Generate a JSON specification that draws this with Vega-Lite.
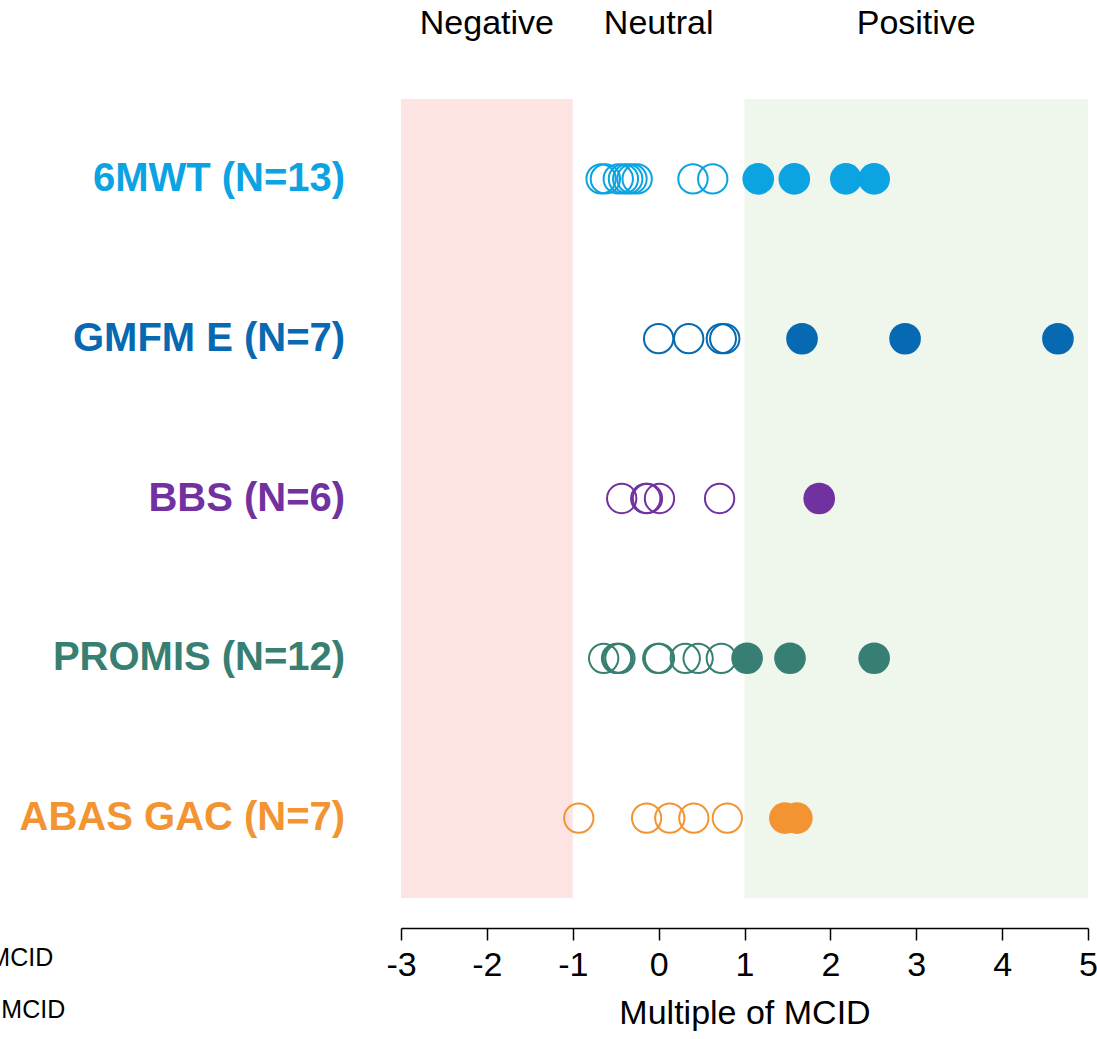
{
  "$schema": "https://vega.github.io/schema/vega-lite/v6.json",
  "width": 687,
  "height": 799,
  "autosize": {"type": "none"},
  "padding": {"left": 401, "top": 99, "right": 9, "bottom": 141},
  "background": "white",
  "config": {"font": "Liberation Sans", "view": {"stroke": null}},
  "datasets": {
    "bands": [
      {"zone": "Negative", "x0": -3, "x1": -1, "y0": 0.5, "y1": 5.5},
      {"zone": "Positive", "x0": 1, "x1": 5, "y0": 0.5, "y1": 5.5}
    ],
    "points": [
      {"measure": "6MWT (N=13)", "row": 5, "value": -0.67, "met": "No"},
      {"measure": "6MWT (N=13)", "row": 5, "value": -0.62, "met": "No"},
      {"measure": "6MWT (N=13)", "row": 5, "value": -0.47, "met": "No"},
      {"measure": "6MWT (N=13)", "row": 5, "value": -0.41, "met": "No"},
      {"measure": "6MWT (N=13)", "row": 5, "value": -0.36, "met": "No"},
      {"measure": "6MWT (N=13)", "row": 5, "value": -0.31, "met": "No"},
      {"measure": "6MWT (N=13)", "row": 5, "value": -0.25, "met": "No"},
      {"measure": "6MWT (N=13)", "row": 5, "value": 0.40, "met": "No"},
      {"measure": "6MWT (N=13)", "row": 5, "value": 0.63, "met": "No"},
      {"measure": "6MWT (N=13)", "row": 5, "value": 1.16, "met": "Yes"},
      {"measure": "6MWT (N=13)", "row": 5, "value": 1.58, "met": "Yes"},
      {"measure": "6MWT (N=13)", "row": 5, "value": 2.18, "met": "Yes"},
      {"measure": "6MWT (N=13)", "row": 5, "value": 2.51, "met": "Yes"},
      {"measure": "GMFM E (N=7)", "row": 4, "value": 0.0, "met": "No"},
      {"measure": "GMFM E (N=7)", "row": 4, "value": 0.35, "met": "No"},
      {"measure": "GMFM E (N=7)", "row": 4, "value": 0.73, "met": "No"},
      {"measure": "GMFM E (N=7)", "row": 4, "value": 0.77, "met": "No"},
      {"measure": "GMFM E (N=7)", "row": 4, "value": 1.67, "met": "Yes"},
      {"measure": "GMFM E (N=7)", "row": 4, "value": 2.87, "met": "Yes"},
      {"measure": "GMFM E (N=7)", "row": 4, "value": 4.65, "met": "Yes"},
      {"measure": "BBS (N=6)", "row": 3, "value": -0.43, "met": "No"},
      {"measure": "BBS (N=6)", "row": 3, "value": -0.15, "met": "No"},
      {"measure": "BBS (N=6)", "row": 3, "value": -0.13, "met": "No"},
      {"measure": "BBS (N=6)", "row": 3, "value": 0.01, "met": "No"},
      {"measure": "BBS (N=6)", "row": 3, "value": 0.71, "met": "No"},
      {"measure": "BBS (N=6)", "row": 3, "value": 1.87, "met": "Yes"},
      {"measure": "PROMIS (N=12)", "row": 2, "value": -0.64, "met": "No"},
      {"measure": "PROMIS (N=12)", "row": 2, "value": -0.49, "met": "No"},
      {"measure": "PROMIS (N=12)", "row": 2, "value": -0.47, "met": "No"},
      {"measure": "PROMIS (N=12)", "row": 2, "value": -0.45, "met": "No"},
      {"measure": "PROMIS (N=12)", "row": 2, "value": -0.01, "met": "No"},
      {"measure": "PROMIS (N=12)", "row": 2, "value": 0.01, "met": "No"},
      {"measure": "PROMIS (N=12)", "row": 2, "value": 0.31, "met": "No"},
      {"measure": "PROMIS (N=12)", "row": 2, "value": 0.46, "met": "No"},
      {"measure": "PROMIS (N=12)", "row": 2, "value": 0.73, "met": "No"},
      {"measure": "PROMIS (N=12)", "row": 2, "value": 1.03, "met": "Yes"},
      {"measure": "PROMIS (N=12)", "row": 2, "value": 1.53, "met": "Yes"},
      {"measure": "PROMIS (N=12)", "row": 2, "value": 2.51, "met": "Yes"},
      {"measure": "ABAS GAC (N=7)", "row": 1, "value": -0.93, "met": "No"},
      {"measure": "ABAS GAC (N=7)", "row": 1, "value": -0.14, "met": "No"},
      {"measure": "ABAS GAC (N=7)", "row": 1, "value": 0.13, "met": "No"},
      {"measure": "ABAS GAC (N=7)", "row": 1, "value": 0.41, "met": "No"},
      {"measure": "ABAS GAC (N=7)", "row": 1, "value": 0.80, "met": "No"},
      {"measure": "ABAS GAC (N=7)", "row": 1, "value": 1.47, "met": "Yes"},
      {"measure": "ABAS GAC (N=7)", "row": 1, "value": 1.61, "met": "Yes"}
    ],
    "rowlabels": [
      {"measure": "6MWT (N=13)", "row": 5, "x": -3.65},
      {"measure": "GMFM E (N=7)", "row": 4, "x": -3.65},
      {"measure": "BBS (N=6)", "row": 3, "x": -3.65},
      {"measure": "PROMIS (N=12)", "row": 2, "x": -3.65},
      {"measure": "ABAS GAC (N=7)", "row": 1, "x": -3.65}
    ],
    "toplabels": [
      {"label": "Negative", "x": -2, "y": 5.97},
      {"label": "Neutral", "x": 0, "y": 5.97},
      {"label": "Positive", "x": 3, "y": 5.97}
    ],
    "legendtext": [
      {"label": "< MCID", "x": -7.05, "y": 0.125},
      {"label": "≥ MCID", "x": -6.91, "y": -0.2}
    ]
  },
  "layer": [
    {
      "data": {"name": "bands"},
      "mark": {"type": "rect"},
      "encoding": {
        "x": {"field": "x0", "type": "quantitative", "scale": {"domain": [-3, 5], "nice": false, "zero": false},
          "axis": {"orient": "bottom", "offset": 30, "values": [-3, -2, -1, 0, 1, 2, 3, 4, 5], "grid": false,
            "labelExpr": "'' + datum.value",
            "domainColor": "black", "domainWidth": 1.5, "tickColor": "black", "tickWidth": 1.5, "tickSize": 12,
            "labelFontSize": 34, "labelColor": "black", "labelPadding": 8, "labelFlush": false,
            "title": "Multiple of MCID", "titleFontSize": 34, "titleFontWeight": "normal", "titleColor": "black", "titlePadding": 14}},
        "x2": {"field": "x1"},
        "y": {"field": "y0", "type": "quantitative", "scale": {"domain": [0.5, 5.5], "nice": false, "zero": false}, "axis": null},
        "y2": {"field": "y1"},
        "fill": {"field": "zone", "type": "nominal", "scale": {"domain": ["Negative", "Positive"], "range": ["#FEE3E3", "#EFF6EC"]}, "legend": null}
      }
    },
    {
      "mark": {"type": "rule", "color": "black", "strokeWidth": 3, "strokeDash": [14, 8]},
      "encoding": {"x": {"datum": 0, "type": "quantitative"}}
    },
    {
      "data": {"name": "points"},
      "transform": [{"filter": "datum.met === 'No'"}],
      "mark": {"type": "point", "shape": "circle", "filled": false, "strokeWidth": 2, "size": 860, "opacity": 1},
      "encoding": {
        "x": {"field": "value", "type": "quantitative"},
        "y": {"field": "row", "type": "quantitative"},
        "color": {"field": "measure", "type": "nominal", "legend": null,
          "scale": {"domain": ["6MWT (N=13)", "GMFM E (N=7)", "BBS (N=6)", "PROMIS (N=12)", "ABAS GAC (N=7)"],
            "range": ["#0BA3E2", "#0769B1", "#7131A0", "#377F72", "#F39433"]}}
      }
    },
    {
      "data": {"name": "points"},
      "transform": [{"filter": "datum.met === 'Yes'"}],
      "mark": {"type": "circle", "size": 1000, "opacity": 1},
      "encoding": {
        "x": {"field": "value", "type": "quantitative"},
        "y": {"field": "row", "type": "quantitative"},
        "color": {"field": "measure", "type": "nominal", "legend": null}
      }
    },
    {
      "data": {"name": "rowlabels"},
      "mark": {"type": "text", "align": "right", "baseline": "middle", "fontSize": 40, "fontWeight": "bold"},
      "encoding": {
        "x": {"field": "x", "type": "quantitative"},
        "y": {"field": "row", "type": "quantitative"},
        "text": {"field": "measure"},
        "color": {"field": "measure", "type": "nominal", "legend": null}
      }
    },
    {
      "data": {"name": "toplabels"},
      "mark": {"type": "text", "align": "center", "baseline": "middle", "fontSize": 34, "color": "black"},
      "encoding": {
        "x": {"field": "x", "type": "quantitative"},
        "y": {"field": "y", "type": "quantitative"},
        "text": {"field": "label"}
      }
    },
    {
      "data": {"name": "legendtext"},
      "mark": {"type": "text", "align": "right", "baseline": "middle", "fontSize": 25, "color": "black"},
      "encoding": {
        "x": {"field": "x", "type": "quantitative"},
        "y": {"field": "y", "type": "quantitative"},
        "text": {"field": "label"}
      }
    }
  ]
}
